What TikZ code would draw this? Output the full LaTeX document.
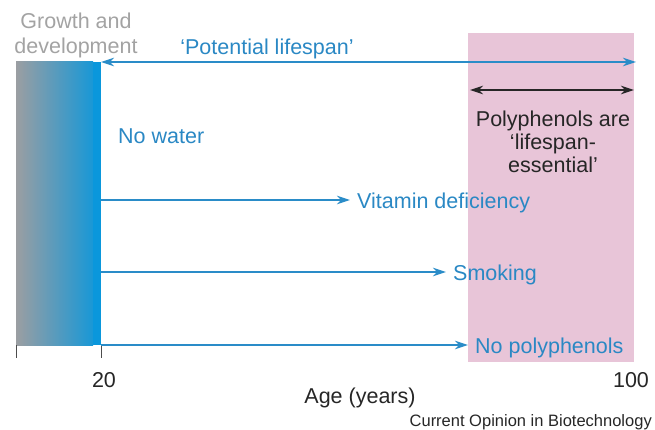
\documentclass[tikz,border=0pt]{standalone}
\usepackage{fontspec}
\setmainfont{Liberation Sans}
\usetikzlibrary{arrows.meta}
\definecolor{ablue}{HTML}{2A8CC8}
\definecolor{tblue}{HTML}{2A88C4}
\definecolor{pinkbg}{HTML}{E8C5D8}
\definecolor{bargray}{HTML}{9B9EA2}
\definecolor{barblue}{HTML}{0A97DC}
\definecolor{lgray}{HTML}{A3A3A3}
\tikzset{
  lbl/.style={font=\fontsize{21.5}{23}\selectfont, inner sep=0pt},
  bluelbl/.style={lbl, text=tblue, anchor=west},
  tip/.tip={Stealth[length=13pt,width=8.5pt,inset=4pt]},
  harrow/.style={draw=ablue, line width=1.1pt, -tip, shorten >=7pt},
  darrow/.style={draw=ablue, line width=1.1pt, tip-tip},
  karrow/.style={draw=black!85, line width=1.1pt, tip-tip},
  tick/.style={draw=black!70, line width=0.9pt}
}
\begin{document}
\begin{tikzpicture}[x=1pt,y=-1pt]
\useasboundingbox (0,0) rectangle (655,430);
% pink region
\fill[pinkbg] (468,33) rectangle (634,362);
% growth bar
\shade[left color=bargray, right color=barblue!90!bargray, middle color=bargray!55!barblue] (16,62) rectangle (93,345);
\fill[barblue] (93,62) rectangle (101,345);
\coordinate (barTop) at (101,62);
\coordinate (bar1) at (101,200);
\coordinate (bar2) at (101,272);
\coordinate (bar3) at (101,345);
% ticks
\draw[tick] (16,345) -- (16,358);
\draw[tick] (101,345) -- (101,358);
% labels
\node[lbl, text=lgray, align=center, font=\fontsize{21.5}{25}\selectfont] (growth) at (76,35) {Growth and\\development};
\coordinate (lifeEnd) at (636,62);
\draw[darrow] (barTop) -- (lifeEnd);
\node[lbl, text=tblue] (potential) at (267,49) {‘Potential lifespan’};
\coordinate (pA) at (470,90);
\coordinate (pB) at (634,90);
\draw[karrow] (pA) -- (pB);
\node[lbl, text=black!85, align=center] (poly) at (553,142) {Polyphenols are\\‘lifespan-\\essential’};
\node[bluelbl] (water) at (118,136) {No water};
\coordinate (vitC) at (357,203);
\coordinate (smokeC) at (453,275);
\coordinate (nopolyC) at (475,348);
\node[bluelbl] (vit) at (vitC) {Vitamin deficiency};
\node[bluelbl] (smoke) at (smokeC) {Smoking};
\node[bluelbl] (nopoly) at (nopolyC) {No polyphenols};
\draw[harrow] (bar1) -- (bar1 -| vit.west);
\draw[harrow] (bar2) -- (bar2 -| smoke.west);
\draw[harrow] (bar3) -- (bar3 -| nopoly.west);
\node[lbl, text=black!85] (t20) at (104,380) {20};
\node[lbl, text=black!85] (t100) at (631,380) {100};
\node[lbl, text=black!85] (age) at (360,398) {Age (years)};
\node[inner sep=0pt, anchor=east, font=\fontsize{16.5}{18}\selectfont, text=black!85] (src) at (652,422) {Current Opinion in Biotechnology};
\end{tikzpicture}
\end{document}
